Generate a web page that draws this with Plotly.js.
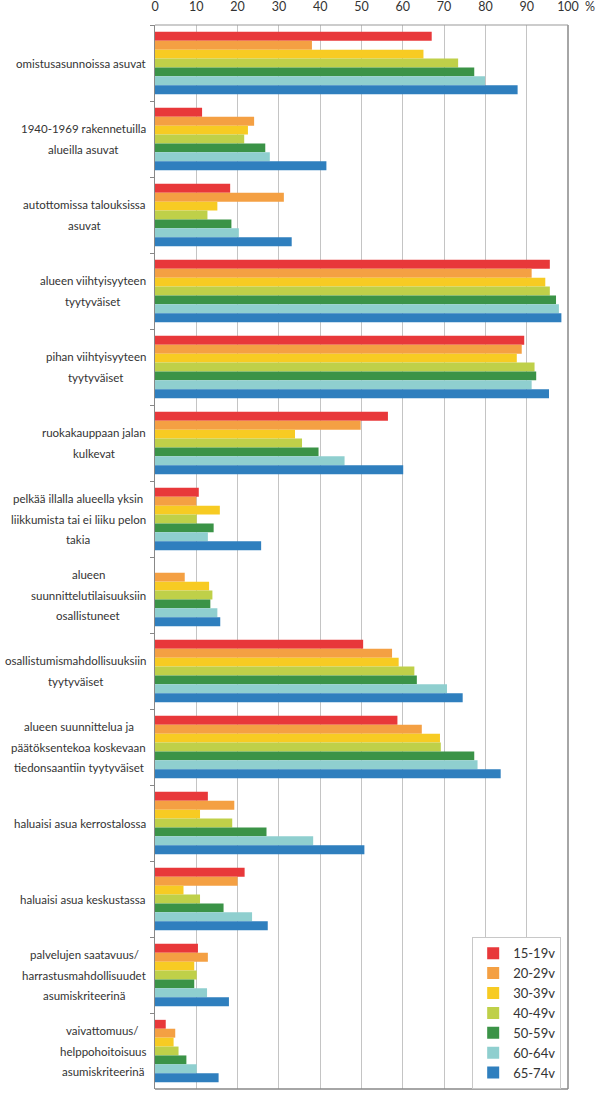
<!DOCTYPE html>
<html><head><meta charset="utf-8">
<script src="https://cdn.plot.ly/plotly-3.0.1.min.js"></script>
<style>body{margin:0;background:#fff}#chart{width:605px;height:1116px}</style>
</head><body><div id="chart"></div>
<script>
const categories = [
  "omistusasunnoissa asuvat",
  "1940-1969 rakennetuilla<br>alueilla asuvat",
  "autottomissa talouksissa<br>asuvat",
  "alueen viihtyisyyteen<br>tyytyväiset",
  "pihan viihtyisyyteen<br>tyytyväiset",
  "ruokakauppaan jalan<br>kulkevat",
  "pelkää illalla alueella yksin<br>liikkumista tai ei liiku pelon<br>takia",
  "alueen<br>suunnittelutilaisuuksiin<br>osallistuneet",
  "osallistumismahdollisuuksiin<br>tyytyväiset",
  "alueen suunnittelua ja<br>päätöksentekoa koskevaan<br>tiedonsaantiin tyytyväiset",
  "haluaisi asua kerrostalossa",
  "haluaisi asua keskustassa",
  "palvelujen saatavuus/<br>harrastusmahdollisuudet<br>asumiskriteerinä",
  "vaivattomuus/<br>helppohoitoisuus<br>asumiskriteerinä"
];
const seriesNames = ["15-19v","20-29v","30-39v","40-49v","50-59v","60-64v","65-74v"];
const v15_19 = [67.0, 11.4, 18.2, 95.6, 89.4, 56.4, 10.6, 0,    50.4, 58.7, 12.8, 21.7, 10.4, 2.6];
const v20_29 = [38.0, 24.0, 31.2, 91.2, 88.8, 49.8, 10.0, 7.2,  57.4, 64.6, 19.2, 20.0, 12.8, 4.9];
const v30_39 = [65.0, 22.5, 15.1, 94.5, 87.6, 33.9, 15.7, 13.1, 59.0, 69.0, 10.9, 6.9,  9.5,  4.5];
const v40_49 = [73.4, 21.6, 12.7, 95.6, 91.9, 35.6, 10.1, 13.9, 62.8, 69.2, 18.7, 10.9, 10.1, 5.7];
const v50_59 = [77.3, 26.7, 18.5, 97.1, 92.3, 39.6, 14.2, 13.4, 63.4, 77.3, 27.0, 16.6, 9.5,  7.6];
const v60_64 = [79.9, 27.8, 20.3, 97.8, 91.2, 45.9, 12.8, 15.1, 70.7, 78.1, 38.3, 23.5, 12.6, 10.1];
const v65_74 = [87.8, 41.5, 33.1, 98.4, 95.4, 60.1, 25.7, 15.8, 74.5, 83.7, 50.7, 27.3, 17.9, 15.4];
const xTicks = [0,10,20,30,40,50,60,70,80,90,100];
const colors = ["#E8383A","#F4A043","#F7CB23","#BFD049","#3B9347","#8FCFCF","#2F7FBE"];

const allValues = [v15_19, v20_29, v30_39, v40_49, v50_59, v60_64, v65_74];
const FONT = "Lato, 'Open Sans', sans-serif";
const LABEL_SIZE = 11.5;

function draw() {
  const traces = allValues.map((vals, i) => ({
    type: "bar", orientation: "h", name: seriesNames[i],
    x: vals, y: categories, marker: {color: colors[i], line: {width: 0}},
    hoverinfo: "x+name"
  }));

  const canvas = document.createElement("canvas");
  const ctx = canvas.getContext("2d");
  ctx.font = LABEL_SIZE + "px Lato";
  const annotations = [];
  categories.forEach(cat => {
    const lines = cat.split("<br>");
    const maxW = Math.max(...lines.map(l => ctx.measureText(l).width));
    lines.forEach((ln, j) => {
      annotations.push({
        xref: "paper", yref: "y", x: 0, y: cat, xanchor: "center", yanchor: "middle",
        xshift: -(9 + maxW / 2), yshift: ((lines.length - 1) / 2 - j) * 20.5,
        text: ln, showarrow: false, font: {family: FONT, size: LABEL_SIZE, color: "#333"}
      });
    });
  });
  annotations.push({xref: "paper", yref: "paper", x: 1, y: 1, xanchor: "left", yanchor: "bottom",
    xshift: 15, yshift: 9, text: "%", showarrow: false, font: {family: FONT, size: 12.5, color: "#333"}});

  const layout = {
    width: 605, height: 1116,
    margin: {l: 155, r: 37, t: 25, b: 27},
    paper_bgcolor: "#fff", plot_bgcolor: "#fff",
    barmode: "group", bargap: 0.18, bargroupgap: 0,
    font: {family: FONT, color: "#333"},
    xaxis: {
      side: "top", range: [0, 100], tickvals: xTicks, ticktext: xTicks.map(String),
      showgrid: true, gridcolor: "#C4C4C4", gridwidth: 1, zeroline: false,
      ticks: "outside", ticklen: 8, tickcolor: "rgba(0,0,0,0)",
      tickfont: {family: FONT, size: 12.5, color: "#333"}, showline: false, fixedrange: true
    },
    yaxis: {
      type: "category", autorange: "reversed", showticklabels: false,
      tickson: "boundaries", ticks: "outside", ticklen: 4, tickcolor: "#888",
      showline: true, linecolor: "#888", linewidth: 1, showgrid: false, zeroline: false, fixedrange: true
    },
    shapes: [
      {type: "line", xref: "paper", yref: "paper", x0: 1, x1: 1, y0: 0, y1: 1, line: {color: "#888", width: 1.5}},
      {type: "line", xref: "paper", yref: "paper", x0: 0, x1: 1, y0: 0, y1: 0, line: {color: "#888", width: 1.5}},
      {type: "line", xref: "paper", yref: "paper", x0: 0, x1: 1, y0: 1, y1: 1, line: {color: "#999", width: 1}}
    ],
    legend: {
      x: 0.768, y: 0.1426, xanchor: "left", yanchor: "top", traceorder: "normal",
      bgcolor: "#fff", bordercolor: "#C8C8C8", borderwidth: 1,
      font: {family: FONT, size: 13, color: "#333"}, tracegroupgap: 0, itemwidth: 30
    },
    annotations: annotations,
    showlegend: true
  };
  Plotly.newPlot("chart", traces, layout, {displayModeBar: false, staticPlot: true});
}

const ready = (document.fonts && document.fonts.load)
  ? Promise.all([document.fonts.load(LABEL_SIZE + "px Lato", "aä")]).catch(() => {})
  : Promise.resolve();
ready.then(draw, draw);
</script>
</body></html>
